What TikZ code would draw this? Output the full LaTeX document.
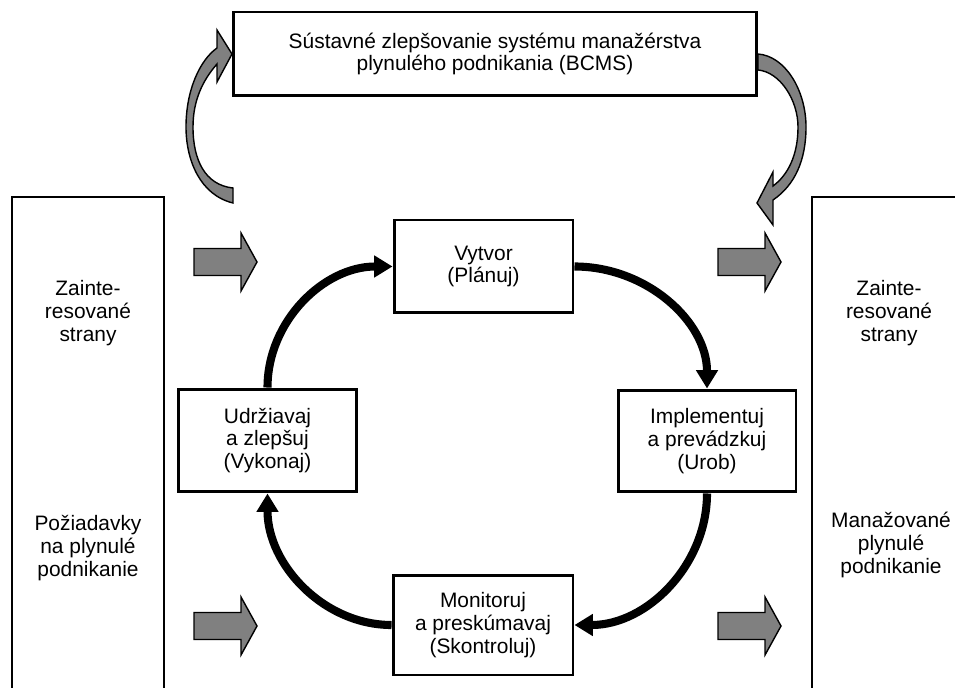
\documentclass[tikz,border=0pt]{standalone}
\usepackage{fontspec}
\setmainfont{Liberation Sans}
\usepackage{tikz}
\usetikzlibrary{arrows.meta}

\definecolor{arrowgray}{RGB}{128,128,128}

\tikzset{
  box/.style={draw,line width=1.7pt,align=center,inner sep=0pt},
  label/.style={align=center,inner sep=0pt},
  cyc/.style={line width=4.6pt,-{Triangle[length=10.5pt,width=12pt]}},
  grayarrow/.style={draw,line width=0.8pt,fill=arrowgray,line join=miter}
}

\begin{document}
\begin{tikzpicture}[x=0.02cm,y=-0.02cm,font=\fontsize{11.9}{13}\selectfont]

\useasboundingbox (0,0) rectangle (955,688);
\clip (0,0) rectangle (955,688);

% Top box
\node[box,minimum width=10.48cm,minimum height=1.68cm] (improve) at (495,54)
  {Sústavné zlepšovanie systému manažérstva\\plynulého podnikania (BCMS)};

% Side boxes (running off the page)
\draw[line width=1.5pt] (12,197) rectangle (164,720);
\draw[line width=1.5pt] (812,197) rectangle (990,720);
\node[label] (partiesL) at (88,313) {Zainte-\\resované\\strany};
\node[label] (require) at (88,548) {Požiadavky\\na plynulé\\podnikanie};
\node[label] (partiesR) at (889,313) {Zainte-\\resované\\strany};
\node[label] (managed) at (891,545) {Manažované\\plynulé\\podnikanie};

% Cycle boxes
\node[box,minimum width=3.58cm,minimum height=1.86cm] (plan) at (483.5,266.5) {Vytvor\\(Plánuj)};
\node[box,minimum width=3.56cm,minimum height=2.04cm] (impl) at (707,441) {Implementuj\\a prevádzkuj\\(Urob)};
\node[box,minimum width=3.6cm,minimum height=2cm] (check) at (483,625) {Monitoruj\\a preskúmavaj\\(Skontroluj)};
\node[box,minimum width=3.58cm,minimum height=2.06cm] (maint) at (267.5,440.5) {Udržiavaj\\a zlepšuj\\(Vykonaj)};

% Cycle
\draw[cyc] (plan.east) .. controls (647,266.5) and (707,322) .. (impl.north);
\draw[cyc] (impl.south) .. controls (707,565) and (647,625) .. (check.east);
\draw[cyc] (check.west) .. controls (324,625) and (267.5,565) .. (maint.south);
\draw[cyc] (maint.north) .. controls (267.5,321) and (324,266.5) .. (plan.west);

% Block arrows in and out
\foreach \x/\y in {257/262,257/626,781/262,781/626}
{
\draw[grayarrow] (\x,\y) -- ++(-16,-29) -- ++(0,15.5) -- ++(-47,0) -- ++(0,27)
  -- ++(47,0) -- ++(0,15.5) -- cycle;
}

% Curved arrows round the top box
\draw[grayarrow] (233,203) .. controls (200,195) and (186,160) .. (186,127)
  .. controls (186,90) and (200,60) .. (217,48) -- (217,30) -- (232,54) -- (217,82)
  -- (217,64) .. controls (203,80) and (193,100) .. (193,127)
  .. controls (193,160) and (205,185) .. (233,188) -- cycle;
\draw[grayarrow] (758,54) .. controls (785,56) and (806,90) .. (806,127)
  .. controls (806,160) and (795,185) .. (773,200) -- (773,225) -- (757,203) -- (773,172)
  -- (773,186) .. controls (788,175) and (798,155) .. (798,127)
  .. controls (798,100) and (780,72) .. (758,70) -- cycle;

\end{tikzpicture}
\end{document}
